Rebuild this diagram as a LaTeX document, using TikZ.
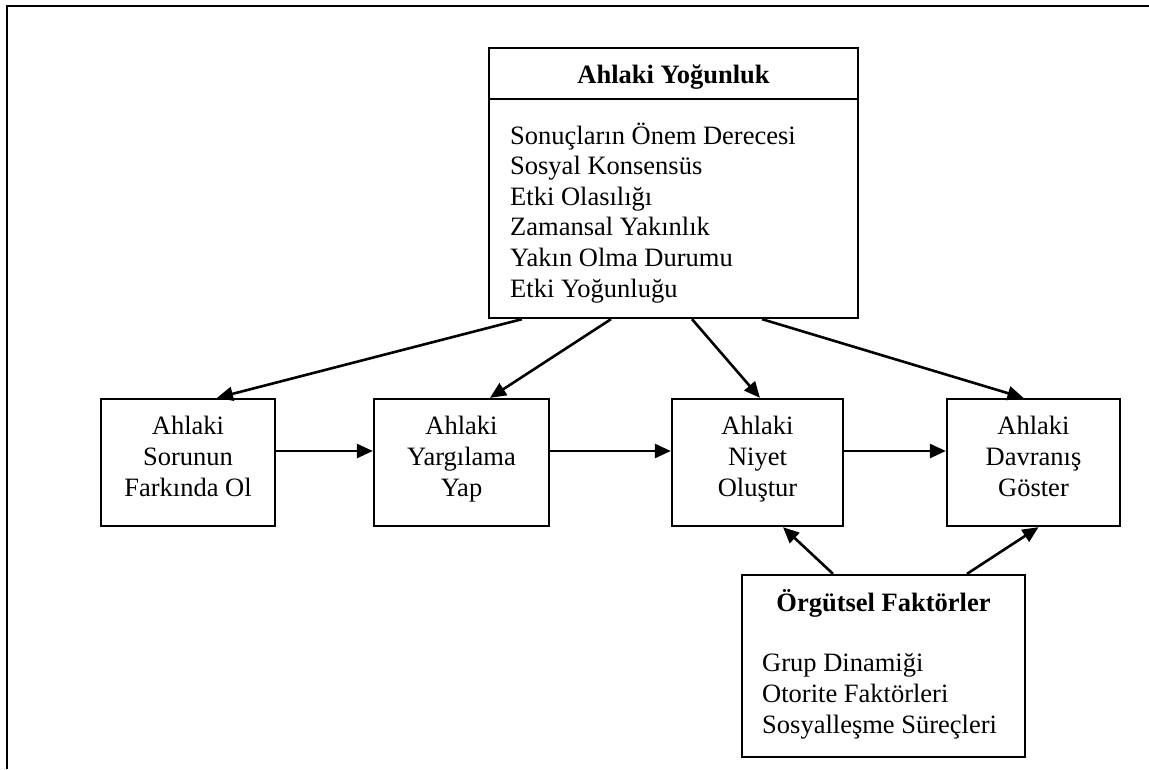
\documentclass[tikz,border=0pt]{standalone}
\usepackage{fontspec}
\setmainfont{Liberation Serif}
\usetikzlibrary{arrows.meta,calc}

\begin{document}
\begin{tikzpicture}[x=1pt,y=-1pt,
  frame/.style={line width=2.8pt},
  box/.style={draw, line width=2.3pt, rectangle, inner sep=0pt},
  arr/.style={line width=2.6pt, -{Triangle[length=16pt,width=14pt]}},
  body/.style={font=\fontsize{26.5}{31}\selectfont, inner sep=0pt},
  head/.style={body, font=\fontsize{26.5}{31}\selectfont\bfseries},
]
\useasboundingbox (0,0) rectangle (1149,769);

% page frame (top and left edges only)
\coordinate (fl) at (7,769);
\coordinate (fc) at (7,6);
\coordinate (fr) at (1149,6);
\draw[frame] (fl) -- (fc) -- (fr);

% moral intensity box
\node[box, minimum width=369pt, minimum height=270pt] (yog) at (673.5,183) {};
\coordinate (div) at (673.5,99);
\draw[line width=2.3pt] (div -| yog.west) -- (div -| yog.east);
\node[head, anchor=base] (yogt) at (673.5,83) {Ahlaki Yoğunluk};
\node[body, anchor=base west] (y1) at (510,144) {Sonuçların Önem Derecesi};
\node[body, anchor=base west] (y2) at (510,174.6) {Sosyal Konsensüs};
\node[body, anchor=base west] (y3) at (510,205.2) {Etki Olasılığı};
\node[body, anchor=base west] (y4) at (510,235.8) {Zamansal Yakınlık};
\node[body, anchor=base west] (y5) at (510,266.4) {Yakın Olma Durumu};
\node[body, anchor=base west] (y6) at (510,297) {Etki Yoğunluğu};

% four decision stages
\node[box, minimum width=174pt, minimum height=127pt] (b1) at (188,462.5) {};
\node[box, minimum width=175pt, minimum height=127pt] (b2) at (461.5,462.5) {};
\node[box, minimum width=171pt, minimum height=127pt] (b3) at (757.5,462.5) {};
\node[box, minimum width=173pt, minimum height=127pt] (b4) at (1033.5,462.5) {};

\node[body, anchor=base] (b1a) at (188,434) {Ahlaki};
\node[body, anchor=base] (b1b) at (188,465) {Sorunun};
\node[body, anchor=base] (b1c) at (188,496) {Farkında Ol};
\node[body, anchor=base] (b2a) at (461.5,434) {Ahlaki};
\node[body, anchor=base] (b2b) at (461.5,465) {Yargılama};
\node[body, anchor=base] (b2c) at (461.5,496) {Yap};
\node[body, anchor=base] (b3a) at (757.5,434) {Ahlaki};
\node[body, anchor=base] (b3b) at (757.5,465) {Niyet};
\node[body, anchor=base] (b3c) at (757.5,496) {Oluştur};
\node[body, anchor=base] (b4a) at (1033.5,434) {Ahlaki};
\node[body, anchor=base] (b4b) at (1033.5,465) {Davranış};
\node[body, anchor=base] (b4c) at (1033.5,496) {Göster};

% organisational factors box
\node[box, minimum width=283pt, minimum height=182pt] (org) at (883.5,666) {};
\node[head, anchor=base] (orgt) at (883.5,611) {Örgütsel Faktörler};
\node[body, anchor=base west] (o1) at (762,671) {Grup Dinamiği};
\node[body, anchor=base west] (o2) at (762,702) {Otorite Faktörleri};
\node[body, anchor=base west] (o3) at (762,733) {Sosyalleşme Süreçleri};

% influence of moral intensity on each stage
\draw[arr] ([xshift=-151.5pt]yog.south) -- ([xshift=29pt]b1.north);
\draw[arr] ([xshift=-62.5pt]yog.south) -- ([xshift=28.5pt]b2.north);
\draw[arr] ([xshift=18.5pt]yog.south) -- ([xshift=2.5pt]b3.north);
\draw[arr] ([xshift=88.5pt]yog.south) -- ([xshift=-10pt]b4.north);

% stage sequence
\coordinate (h1) at ([yshift=11.5pt]b1.east);
\coordinate (h2) at ([yshift=11.5pt]b2.east);
\coordinate (h3) at ([yshift=11.5pt]b3.east);
\draw[arr] (h1) -- (h1 -| b2.west);
\draw[arr] (h2) -- (h2 -| b3.west);
\draw[arr] (h3) -- (h3 -| b4.west);

% organisational influence
\draw[arr] ([xshift=-50.5pt]org.north) -- ([xshift=25.5pt]b3.south);
\draw[arr] ([xshift=83.5pt]org.north) -- ([xshift=5pt]b4.south);
\end{tikzpicture}
\end{document}
